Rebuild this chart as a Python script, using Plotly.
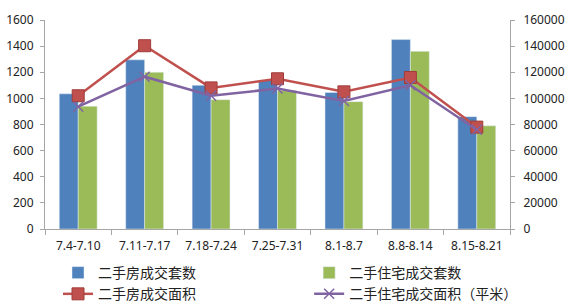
import plotly.graph_objects as go

categories = ["7.4-7.10", "7.11-7.17", "7.18-7.24", "7.25-7.31", "8.1-8.7", "8.8-8.14", "8.15-8.21"]
sets_all = [1035, 1295, 1100, 1140, 1045, 1450, 860]
sets_res = [940, 1200, 990, 1060, 975, 1360, 790]
area_all = [102000, 140300, 108000, 115000, 105000, 116000, 78000]
area_res = [93600, 116600, 102000, 107500, 98000, 110000, 76000]

names = ["二手房成交套数", "二手住宅成交套数", "二手房成交面积", "二手住宅成交面积（平米）"]

fig = go.Figure()
fig.add_trace(go.Bar(x=categories, y=sets_all, name=names[0], marker_color="#4F81BD", legend="legend"))
fig.add_trace(go.Bar(x=categories, y=sets_res, name=names[1], marker_color="#9BBB59", legend="legend2"))
fig.add_trace(go.Scatter(x=categories, y=area_all, name=names[2], yaxis="y2", mode="lines+markers",
                         legend="legend",
                         line=dict(color="#C0504D", width=2.5),
                         marker=dict(symbol="square", size=12, color="#C0504D",
                                     line=dict(color="#A03C39", width=1))))
fig.add_trace(go.Scatter(x=categories, y=area_res, name=names[3], yaxis="y2", mode="lines+markers",
                         legend="legend2",
                         line=dict(color="#8064A2", width=2.5),
                         marker=dict(symbol="x-thin", size=10, color="#8064A2",
                                     line=dict(color="#8064A2", width=1.5))))

font_family = "Noto Sans, Noto Sans CJK SC, sans-serif"
legend_common = dict(orientation="v", y=0.16, xref="container", yref="container",
                     xanchor="left", yanchor="top", tracegroupgap=0, traceorder="normal",
                     font=dict(size=14, family="Noto Sans CJK SC, sans-serif"), itemwidth=30,
                     bgcolor="rgba(0,0,0,0)")
fig.update_layout(
    width=580, height=306,
    margin=dict(l=45, r=70, t=20, b=77, autoexpand=False),
    paper_bgcolor="white", plot_bgcolor="white",
    font=dict(family=font_family, size=12, color="#222"),
    barmode="group", bargap=0.43, bargroupgap=0,
    showlegend=True,
    legend=dict(x=0.1, **legend_common),
    legend2=dict(x=0.533, **legend_common),
    xaxis=dict(type="category", showline=True, linecolor="#A6A6A6", linewidth=1,
               ticks="outside", tickson="boundaries", ticklen=5, tickcolor="#A6A6A6",
               showgrid=False, tickfont=dict(size=12), ticklabelstandoff=6),
    yaxis=dict(range=[0, 1600], dtick=200, showline=True, linecolor="#A6A6A6", linewidth=1,
               ticks="outside", ticklen=4, tickcolor="#A6A6A6", showgrid=False, zeroline=False,
               tickfont=dict(size=12), ticklabelstandoff=4),
    yaxis2=dict(range=[0, 160000], dtick=20000, tickformat="d", overlaying="y", side="right",
                showline=True, linecolor="#A6A6A6", linewidth=1,
                ticks="outside", ticklen=4, tickcolor="#A6A6A6", showgrid=False, zeroline=False,
                tickfont=dict(size=12), ticklabelstandoff=6),
)

fig.write_html("out.html")
